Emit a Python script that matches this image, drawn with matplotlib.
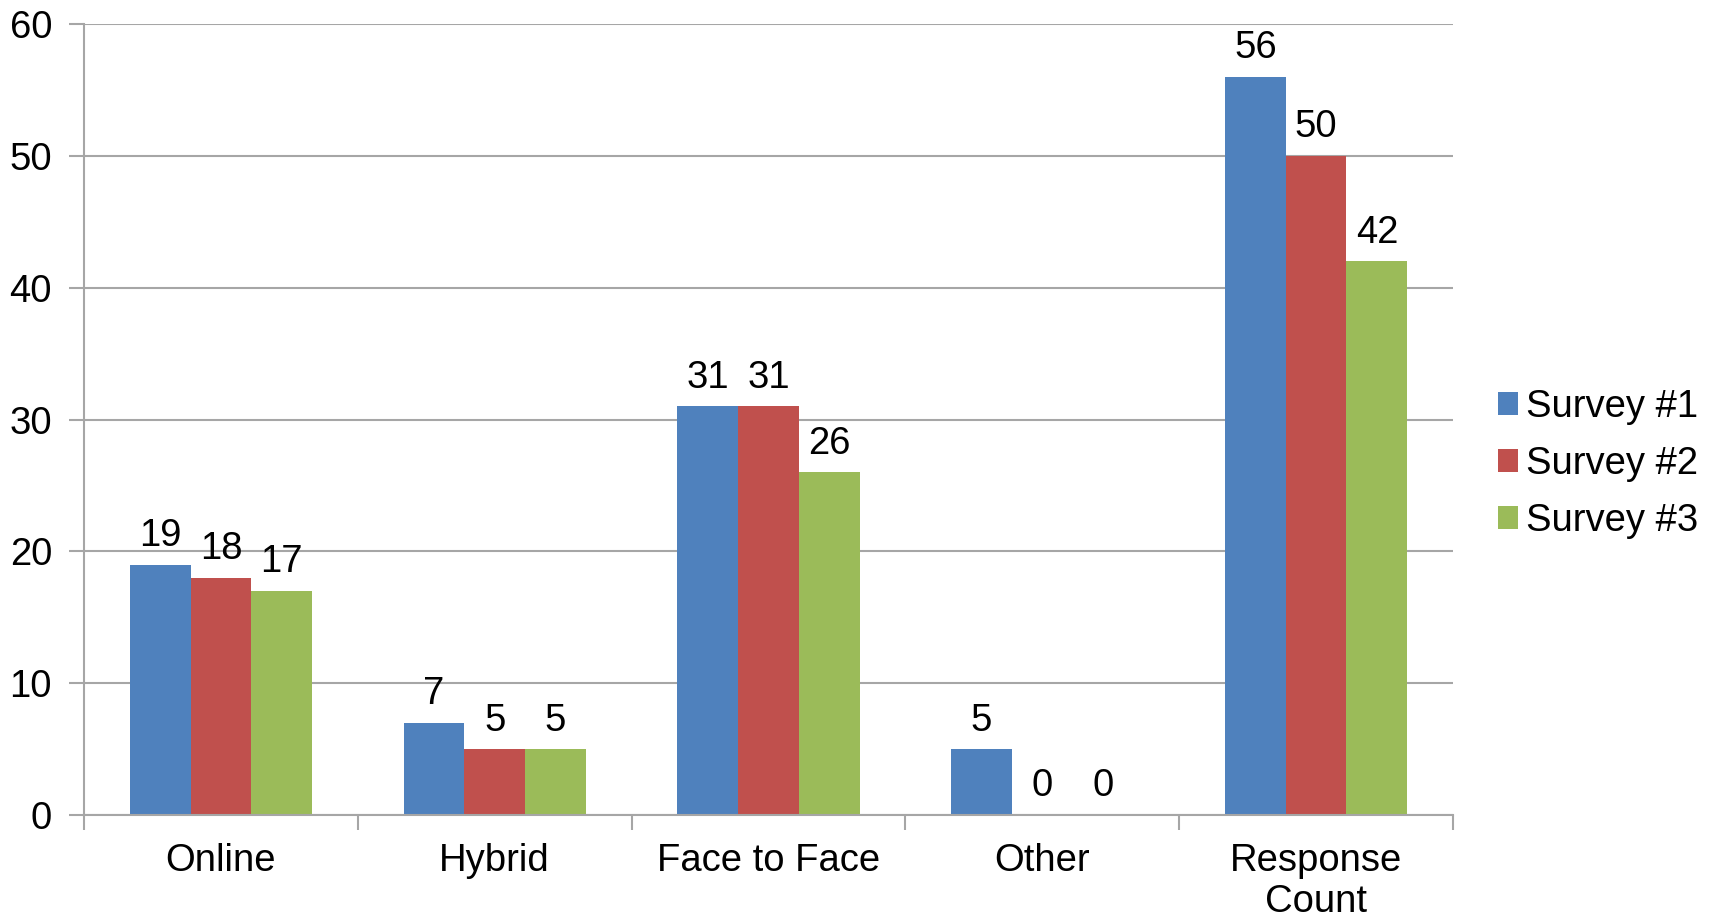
import matplotlib.pyplot as plt
import numpy as np

categories = ['Online', 'Hybrid', 'Face to Face', 'Other', 'Response\nCount']
survey_1 = [19, 7, 31, 5, 56]
survey_2 = [18, 5, 31, 0, 50]
survey_3 = [17, 5, 26, 0, 42]
series_names = ['Survey #1', 'Survey #2', 'Survey #3']
colors = ['#4F81BD', '#C0504D', '#9BBB59']

plt.rcParams['font.family'] = ['Liberation Sans', 'DejaVu Sans']
fs = 27.5
grid_color = '#A6A6A6'

fig = plt.figure(figsize=[17.09, 9.18], dpi=100)
ax = fig.add_axes([84 / 1709, 1 - 815 / 918, (1453 - 84) / 1709, (815 - 24) / 918])

x = np.arange(len(categories))
width = 0.222
for i, (vals, name, c) in enumerate(zip([survey_1, survey_2, survey_3], series_names, colors)):
    pos = x + (i - 1) * width
    bars = ax.bar(pos, vals, width=width, color=c, label=name, zorder=2)
    for b, v in zip(bars, vals):
        ax.text(b.get_x() + b.get_width() / 2, v + 0.8, str(v), ha='center', va='bottom', fontsize=fs)

ax.set_xlim(-0.5, len(categories) - 0.5)
ax.set_ylim(0, 60)
ax.set_yticks(range(0, 61, 10))
ax.yaxis.grid(True, color=grid_color, linewidth=1.5, zorder=0)
ax.set_axisbelow(True)

ax.set_xticks(x)
ax.set_xticklabels(categories, fontsize=fs, linespacing=1.2)
ax.set_xticks(np.arange(-0.5, len(categories), 1), minor=True)
ax.tick_params(axis='x', which='major', length=0, pad=20)
ax.tick_params(axis='x', which='minor', length=11, width=1.5, color=grid_color)
ax.tick_params(axis='y', length=11, width=1.5, color=grid_color, labelsize=fs, pad=12)

for s in ['top', 'right']:
    ax.spines[s].set_visible(False)
for s in ['left', 'bottom']:
    ax.spines[s].set_color(grid_color)
    ax.spines[s].set_linewidth(1.5)

fig.legend(loc='center left', bbox_to_anchor=(1498 / 1709, 1 - 464 / 918), frameon=False, fontsize=fs,
           handlelength=0.52, handleheight=0.52, handletextpad=0.22, labelspacing=0.55,
           borderpad=0, borderaxespad=0)

plt.savefig('out.png', dpi=100)
